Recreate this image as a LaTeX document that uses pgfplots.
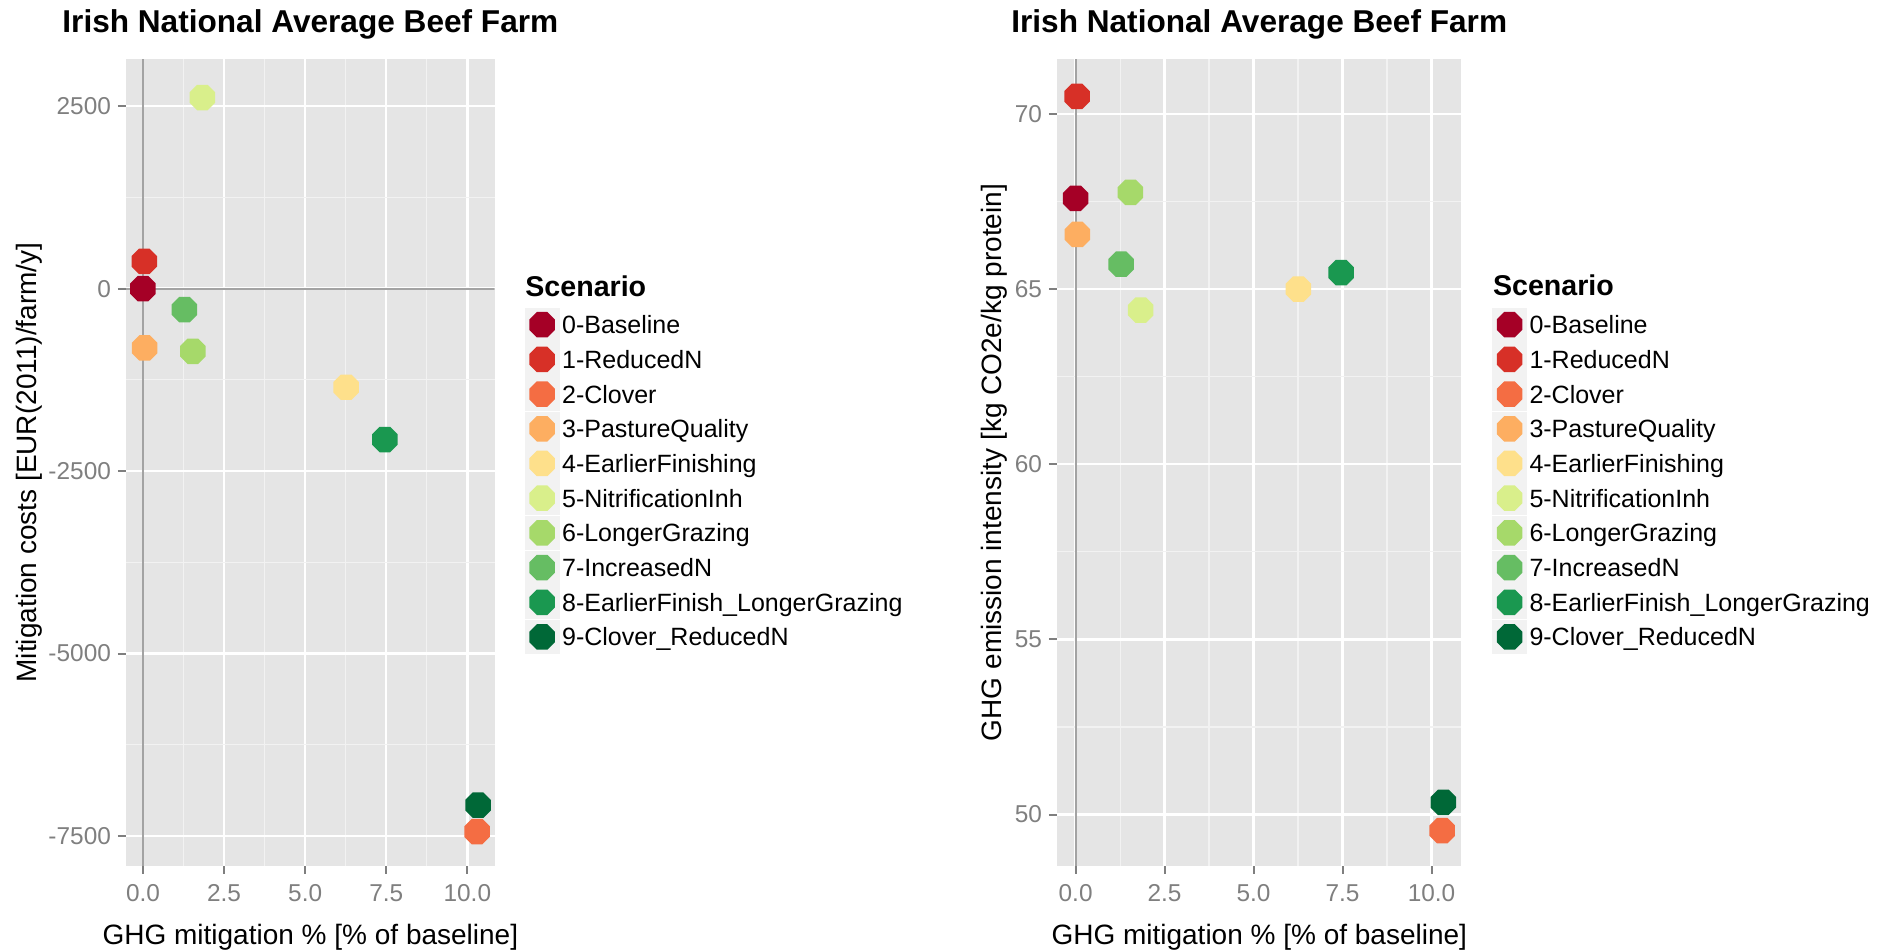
\documentclass[border=0pt]{standalone}
\usepackage{pgfplots}
\pgfplotsset{compat=1.18}
\usepackage{fontspec}
\setmainfont{Liberation Sans}
\definecolor{c0}{HTML}{A50026}
\definecolor{c1}{HTML}{D73027}
\definecolor{c2}{HTML}{F46D43}
\definecolor{c3}{HTML}{FDAE61}
\definecolor{c4}{HTML}{FEE08B}
\definecolor{c5}{HTML}{D9EF8B}
\definecolor{c6}{HTML}{A6D96A}
\definecolor{c7}{HTML}{66BD63}
\definecolor{c8}{HTML}{1A9850}
\definecolor{c9}{HTML}{006837}
\definecolor{ggpanel}{HTML}{E5E5E5}
\definecolor{ggminor}{HTML}{F2F2F2}
\definecolor{keybg}{HTML}{F2F2F2}
\definecolor{ticktext}{HTML}{7F7F7F}
\definecolor{refline}{HTML}{A3A3A3}
\pgfdeclareplotmark{oct}{%
 \pgfpathmoveto{\pgfpointpolar{22.5}{\pgfplotmarksize}}%
 \pgfpathlineto{\pgfpointpolar{67.5}{\pgfplotmarksize}}%
 \pgfpathlineto{\pgfpointpolar{112.5}{\pgfplotmarksize}}%
 \pgfpathlineto{\pgfpointpolar{157.5}{\pgfplotmarksize}}%
 \pgfpathlineto{\pgfpointpolar{202.5}{\pgfplotmarksize}}%
 \pgfpathlineto{\pgfpointpolar{247.5}{\pgfplotmarksize}}%
 \pgfpathlineto{\pgfpointpolar{292.5}{\pgfplotmarksize}}%
 \pgfpathlineto{\pgfpointpolar{337.5}{\pgfplotmarksize}}%
 \pgfpathclose\pgfusepathqfill}
\pgfplotsset{
 pt/.style={only marks, mark=oct, mark size=6.9pt, color=#1,
   legend image code/.code={\fill[keybg] (-8.5pt,-8.3pt) rectangle (8.5pt,8.3pt);
     \draw[##1] plot coordinates {(0pt,0pt)};}},
 ggstyle/.style={
  scale only axis,
  axis background/.style={fill=ggpanel},
  axis line style={draw=none},
  tick align=outside,
  tick pos=left,
  major tick length=4.1pt,
  minor tick length=0pt,
  every tick/.style={ticktext, line width=1pt},
  grid=both,
  major grid style={white, line width=1.2pt},
  minor grid style={ggminor, line width=0.6pt},
  minor tick num=1,
  xmin=-0.52, xmax=10.84,
  xtick={0,2.5,5,7.5,10},
  xticklabels={0.0,2.5,5.0,7.5,10.0},
  xticklabel style={font=\fontsize{12.2}{14}\selectfont, text=ticktext, inner sep=0pt, anchor=north, yshift=-5.2pt},
  yticklabel style={font=\fontsize{12.2}{14}\selectfont, text=ticktext, inner sep=0pt, anchor=east, xshift=-3.3pt},
  every axis title/.style={at={(axis description cs:0.5,1)}, anchor=base, yshift=13.5pt, font=\bfseries\fontsize{15.8}{18}\selectfont},
  every axis x label/.style={at={(axis description cs:0.5,0)}, anchor=base, yshift=-39.65pt, font=\fontsize{14}{16}\selectfont},
  title={Irish National Average Beef Farm},
  xlabel={GHG mitigation \% [\% of baseline]},
  legend cell align=left,
  legend style={at={(axis description cs:1,1)}, anchor=north west, yshift=-124pt,
    draw=none, fill=none, inner sep=0pt, row sep=0.35pt, column sep=1.3pt,
    nodes={inner sep=0pt, text height=9pt, text depth=0pt, font=\fontsize{12.5}{14}\selectfont}},
 }
}
\begin{document}
\begin{tikzpicture}
\useasboundingbox (0,0) rectangle (942.5pt,475.5pt);
\begin{axis}[ggstyle,
  at={(63.05pt,42.65pt)}, anchor=south west, width=184.25pt, height=403.2pt,
  ymin=-7907, ymax=3143,
  ytick={-7500,-5000,-2500,0,2500},
  yticklabels={-7500,-5000,-2500,0,2500},
  ylabel={Mitigation costs [EUR(2011)/farm/y]},
  every axis y label/.style={at={(axis description cs:0,0.5)}, xshift=-48.3pt, rotate=90, anchor=center, font=\fontsize{14}{16}\selectfont},
  legend style={xshift=14.85pt},
]
\addplot[pt=c0] coordinates {(0,0)}; \addlegendentry{0-Baseline}
\addplot[pt=c1] coordinates {(0.04,374)}; \addlegendentry{1-ReducedN}
\addplot[pt=c2] coordinates {(10.30,-7440)}; \addlegendentry{2-Clover}
\addplot[pt=c3] coordinates {(0.05,-813)}; \addlegendentry{3-PastureQuality}
\addplot[pt=c4] coordinates {(6.26,-1351)}; \addlegendentry{4-EarlierFinishing}
\addplot[pt=c5] coordinates {(1.83,2619)}; \addlegendentry{5-NitrificationInh}
\addplot[pt=c6] coordinates {(1.54,-858)}; \addlegendentry{6-LongerGrazing}
\addplot[pt=c7] coordinates {(1.28,-288)}; \addlegendentry{7-IncreasedN}
\addplot[pt=c8] coordinates {(7.46,-2067)}; \addlegendentry{8-EarlierFinish\_LongerGrazing}
\addplot[pt=c9] coordinates {(10.33,-7078)}; \addlegendentry{9-Clover\_ReducedN}
\addplot[forget plot, refline, line width=1pt] coordinates {(0,-7907) (0,3143)};
\addplot[forget plot, refline, line width=1pt] coordinates {(-0.52,0) (10.84,0)};
\end{axis}
\begin{axis}[ggstyle,
  at={(528.55pt,42.65pt)}, anchor=south west, width=202.15pt, height=403.2pt,
  ymin=48.54, ymax=71.56,
  ytick={50,55,60,65,70},
  yticklabels={50,55,60,65,70},
  ylabel={GHG emission intensity [kg CO2e/kg protein]},
  every axis y label/.style={at={(axis description cs:0,0.5)}, xshift=-31.3pt, rotate=90, anchor=center, font=\fontsize{14}{16}\selectfont},
  legend style={xshift=15.15pt},
]
\addplot[pt=c0] coordinates {(0,67.59)}; \addlegendentry{0-Baseline}
\addplot[pt=c1] coordinates {(0.04,70.50)}; \addlegendentry{1-ReducedN}
\addplot[pt=c2] coordinates {(10.30,49.54)}; \addlegendentry{2-Clover}
\addplot[pt=c3] coordinates {(0.05,66.56)}; \addlegendentry{3-PastureQuality}
\addplot[pt=c4] coordinates {(6.26,65.00)}; \addlegendentry{4-EarlierFinishing}
\addplot[pt=c5] coordinates {(1.83,64.40)}; \addlegendentry{5-NitrificationInh}
\addplot[pt=c6] coordinates {(1.54,67.76)}; \addlegendentry{6-LongerGrazing}
\addplot[pt=c7] coordinates {(1.28,65.71)}; \addlegendentry{7-IncreasedN}
\addplot[pt=c8] coordinates {(7.46,65.47)}; \addlegendentry{8-EarlierFinish\_LongerGrazing}
\addplot[pt=c9] coordinates {(10.33,50.35)}; \addlegendentry{9-Clover\_ReducedN}
\addplot[forget plot, refline, line width=1pt] coordinates {(0,48.54) (0,71.56)};
\end{axis}
\node[anchor=base west, inner sep=0pt, font=\bfseries\fontsize{14.3}{16}\selectfont] at (262.5pt,327.15pt) {Scenario};
\node[anchor=base west, inner sep=0pt, font=\bfseries\fontsize{14.3}{16}\selectfont] at (746.35pt,327.5pt) {Scenario};
\end{tikzpicture}
\end{document}
